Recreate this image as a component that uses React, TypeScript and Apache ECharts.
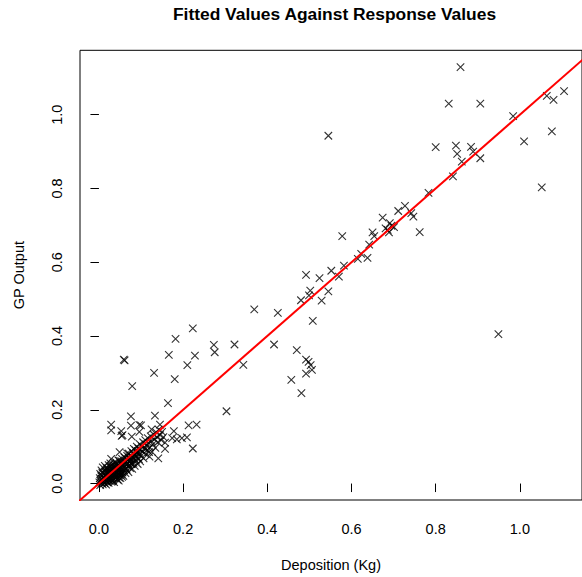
import React, { useEffect, useRef } from "react";
import * as echarts from "echarts";

// Deposition (Kg) vs GP Output pairs
const denseCluster: [number, number][] = [
  [0.001, 0.003], [0.002, 0.015], [0.003, -0.004], [0.004, 0.008], [0.005, 0.022], [0.006, 0.002],
  [0.007, 0.013], [0.008, 0.030], [0.009, -0.002], [0.010, 0.007], [0.011, 0.018], [0.012, 0.026],
  [0.013, 0.001], [0.014, 0.011], [0.015, 0.036], [0.016, 0.020], [0.017, -0.003], [0.018, 0.006],
  [0.019, 0.015], [0.020, 0.028], [0.021, 0.041], [0.022, 0.010], [0.023, 0.002], [0.024, 0.019],
  [0.025, 0.033], [0.026, 0.046], [0.027, 0.012], [0.028, 0.024], [0.029, 0.005], [0.030, 0.038],
  [0.031, 0.017], [0.032, 0.029], [0.033, 0.052], [0.034, 0.009], [0.035, 0.021], [0.036, 0.043],
  [0.037, 0.034], [0.038, 0.014], [0.039, 0.026], [0.040, 0.058], [0.024, 0.008], [0.028, 0.037],
  [0.033, 0.015], [0.036, 0.004], [0.038, 0.048], [0.031, 0.044], [0.027, 0.055],
  [0.003, 0.026], [0.006, 0.036], [0.009, 0.044], [0.012, 0.014], [0.014, 0.048], [0.016, 0.031],
  [0.018, 0.042], [0.020, 0.003], [0.022, 0.034], [0.023, 0.050], [0.025, 0.016], [0.026, 0.027],
  [0.029, 0.048], [0.030, 0.011], [0.032, 0.006], [0.034, 0.036], [0.035, 0.056], [0.037, 0.024],
  [0.039, 0.040], [0.040, 0.017], [0.042, 0.054], [0.043, 0.028], [0.045, 0.035], [0.046, 0.063],
  [0.048, 0.016], [0.049, 0.048], [0.051, 0.039], [0.052, 0.024], [0.054, 0.051], [0.055, 0.018],
  [0.041, 0.031], [0.042, 0.019], [0.043, 0.040], [0.044, 0.011], [0.045, 0.050], [0.046, 0.027],
  [0.047, 0.036], [0.048, 0.062], [0.049, 0.022], [0.050, 0.044], [0.051, 0.015], [0.052, 0.055],
  [0.053, 0.033], [0.054, 0.026], [0.055, 0.067], [0.056, 0.041], [0.057, 0.048], [0.058, 0.021],
  [0.059, 0.058], [0.060, 0.036], [0.044, 0.046], [0.047, 0.008], [0.050, 0.030], [0.053, 0.061],
  [0.056, 0.030], [0.058, 0.052],
  [0.061, 0.070], [0.062, 0.045], [0.063, 0.028], [0.064, 0.060], [0.065, 0.052], [0.066, 0.038],
  [0.067, 0.075], [0.068, 0.064], [0.069, 0.047], [0.070, 0.031], [0.071, 0.081], [0.072, 0.058],
  [0.073, 0.068], [0.074, 0.042], [0.075, 0.076], [0.076, 0.054], [0.077, 0.088], [0.078, 0.065],
  [0.079, 0.040], [0.080, 0.072], [0.062, 0.057], [0.066, 0.066], [0.069, 0.055], [0.072, 0.049],
  [0.074, 0.063], [0.078, 0.053], [0.063, 0.040], [0.067, 0.082], [0.071, 0.070],
  [0.081, 0.083], [0.082, 0.056], [0.083, 0.094], [0.084, 0.068], [0.085, 0.048], [0.086, 0.078],
  [0.087, 0.090], [0.088, 0.062], [0.089, 0.084], [0.090, 0.100], [0.091, 0.071], [0.092, 0.053],
  [0.093, 0.088], [0.094, 0.095], [0.095, 0.066], [0.096, 0.080], [0.097, 0.107], [0.098, 0.060],
  [0.099, 0.092], [0.100, 0.075], [0.084, 0.077], [0.088, 0.074], [0.092, 0.081],
  [0.102, 0.101], [0.104, 0.086], [0.105, 0.112], [0.106, 0.068], [0.108, 0.095], [0.110, 0.118],
  [0.111, 0.080], [0.113, 0.104], [0.115, 0.091], [0.116, 0.123], [0.118, 0.110], [0.120, 0.073],
  [0.121, 0.098], [0.123, 0.128], [0.125, 0.115], [0.126, 0.086], [0.128, 0.106], [0.130, 0.133],
  [0.132, 0.120], [0.134, 0.097], [0.136, 0.139], [0.138, 0.126], [0.140, 0.112], [0.142, 0.146],
  [0.145, 0.131], [0.148, 0.118], [0.150, 0.140], [0.153, 0.126],
];

const lowSpread: [number, number][] = [
  [0.029, 0.160], [0.029, 0.144], [0.053, 0.142], [0.054, 0.129], [0.056, 0.131], [0.076, 0.182],
  [0.076, 0.157], [0.096, 0.159], [0.100, 0.158], [0.078, 0.127], [0.096, 0.140], [0.029, 0.067],
  [0.049, 0.085], [0.125, 0.147], [0.133, 0.184], [0.145, 0.160], [0.213, 0.158], [0.232, 0.160],
  [0.178, 0.142], [0.174, 0.123], [0.185, 0.120], [0.197, 0.123], [0.209, 0.125], [0.157, 0.111],
  [0.157, 0.094], [0.223, 0.095], [0.141, 0.068], [0.111, 0.094], [0.119, 0.085],
];

const midPoints: [number, number][] = [
  [0.059, 0.336], [0.061, 0.334], [0.079, 0.264], [0.131, 0.300], [0.164, 0.218], [0.180, 0.283],
  [0.166, 0.349], [0.182, 0.392], [0.223, 0.421], [0.228, 0.347], [0.210, 0.321], [0.273, 0.376],
  [0.275, 0.356], [0.322, 0.377], [0.343, 0.322], [0.303, 0.196], [0.369, 0.472], [0.425, 0.463],
  [0.416, 0.377], [0.470, 0.362], [0.492, 0.336], [0.498, 0.330], [0.503, 0.321], [0.506, 0.308],
  [0.492, 0.298], [0.481, 0.245], [0.457, 0.281], [0.508, 0.441], [0.480, 0.497], [0.499, 0.510],
  [0.502, 0.523], [0.529, 0.496], [0.545, 0.521], [0.492, 0.566], [0.524, 0.557], [0.552, 0.577],
  [0.570, 0.561], [0.582, 0.591], [0.615, 0.609], [0.638, 0.612], [0.623, 0.623], [0.642, 0.648],
  [0.578, 0.671], [0.650, 0.681], [0.654, 0.671],
];

const upperPoints: [number, number][] = [
  [0.674, 0.721], [0.681, 0.692], [0.686, 0.688], [0.689, 0.681], [0.691, 0.706], [0.695, 0.699],
  [0.701, 0.695], [0.711, 0.739], [0.727, 0.753], [0.742, 0.733], [0.747, 0.724], [0.762, 0.682],
  [0.783, 0.788], [0.800, 0.912], [0.841, 0.833], [0.848, 0.916], [0.851, 0.894], [0.862, 0.873],
  [0.884, 0.913], [0.889, 0.900], [0.906, 0.882], [0.545, 0.943], [0.831, 1.030], [0.906, 1.030],
  [0.859, 1.129], [0.984, 0.996], [1.010, 0.928], [1.052, 0.803], [1.064, 1.051], [1.080, 1.040],
  [1.105, 1.064], [1.076, 0.955], [0.949, 0.405],
];

// Reference line y = x (end points of the abline)
const identityLine: [number, number][] = [[-0.1, -0.1], [1.3, 1.3]];

const xTicks = [0, 0.2, 0.4, 0.6, 0.8, 1.0];
const yTicks = [0, 0.2, 0.4, 0.6, 0.8, 1.0];

const FONT = "Liberation Sans, Arial, Helvetica, sans-serif";

export default function App() {
  const ref = useRef<HTMLDivElement>(null);
  useEffect(() => {
    if (!ref.current) return;
    const chart = echarts.init(ref.current, undefined, { renderer: "svg" });
    const allPoints = [...denseCluster, ...lowSpread, ...midPoints, ...upperPoints];
    chart.setOption({
      animation: false,
      backgroundColor: "#ffffff",
      textStyle: { fontFamily: FONT },
      graphic: [
        {
          type: "text",
          x: 334.5,
          y: 14,
          style: {
            text: "Fitted Values Against Response Values",
            textAlign: "center",
            textVerticalAlign: "middle",
            font: `bold 17.4px ${FONT}`,
            fill: "#000",
          },
        },
      ],
      grid: {
        left: 80,
        top: 50.3,
        width: 509,
        height: 456.4,
        show: true,
        borderColor: "#000",
        borderWidth: 1,
        backgroundColor: "transparent",
      },
      xAxis: {
        type: "value",
        min: -0.045,
        max: 1.1476,
        splitLine: { show: false },
        axisLine: { show: false },
        axisTick: { show: true, customValues: xTicks, length: 8.5, lineStyle: { color: "#000", width: 1 } },
        axisLabel: {
          customValues: xTicks,
          formatter: (v: number) => v.toFixed(1),
          margin: 21,
          fontSize: 14.5,
          color: "#000",
          fontFamily: FONT,
        },
        name: "Deposition (Kg)",
        nameLocation: "middle",
        nameGap: 57,
        nameTextStyle: { fontSize: 14.5, color: "#000", fontFamily: FONT },
      },
      yAxis: {
        type: "value",
        min: -0.0446,
        max: 1.1747,
        splitLine: { show: false },
        axisLine: { show: false },
        axisTick: { show: true, customValues: yTicks, length: 8.5, lineStyle: { color: "#000", width: 1 } },
        axisLabel: {
          customValues: yTicks,
          formatter: (v: number) => v.toFixed(1),
          rotate: 90,
          margin: 16,
          fontSize: 14.5,
          color: "#000",
          fontFamily: FONT,
        },
        name: "GP Output",
        nameLocation: "middle",
        nameGap: 54,
        nameTextStyle: { fontSize: 14.5, color: "#000", fontFamily: FONT },
      },
      series: [
        {
          type: "scatter",
          data: allPoints,
          symbol: "path://M0,0L10,10M10,0L0,10",
          symbolSize: 7.5,
          itemStyle: { color: "transparent", borderColor: "#000", borderWidth: 1.1 },
          z: 2,
        },
        {
          type: "line",
          data: identityLine,
          showSymbol: false,
          symbol: "none",
          clip: true,
          lineStyle: { color: "#ff0000", width: 2 },
          z: 3,
        },
      ],
    });
    return () => chart.dispose();
  }, []);
  return (
    <div
      ref={ref}
      style={{ position: "absolute", left: 0, top: 0, width: 582, height: 577 }}
    />
  );
}
